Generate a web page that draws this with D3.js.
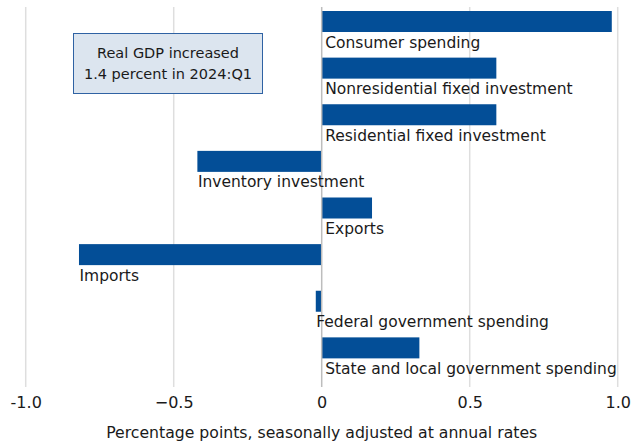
<!DOCTYPE html>
<html>
<head>
<meta charset="utf-8">
<script src="https://cdn.jsdelivr.net/npm/d3@7"></script>
<style>
  html, body { margin: 0; padding: 0; background: #fff; }
  svg text { font-family: "DejaVu Sans", "Open Sans", sans-serif; fill: #1a1a1a; }
</style>
</head>
<body>
<svg id="chart" width="642" height="443"></svg>
<script>
// Contributions to percent change in real GDP, by component
const categories = [
  "Consumer spending",
  "Nonresidential fixed investment",
  "Residential fixed investment",
  "Inventory investment",
  "Exports",
  "Imports",
  "Federal government spending",
  "State and local government spending"
];
const contributions = [0.98, 0.59, 0.59, -0.42, 0.17, -0.82, -0.02, 0.33];
const tickValues = [-1.0, -0.5, 0, 0.5, 1.0];
const tickLabels = ["-1.0", "\u22120.5", "0", "0.5", "1.0"];
const noteLines = ["Real GDP increased", "1.4 percent in 2024:Q1"];
const axisTitle = "Percentage points, seasonally adjusted at annual rates";

const rows = categories.map((c, i) => ({ name: c, value: contributions[i] }));

const svg = d3.select("#chart");
const plotTop = 7, plotBottom = 380, gridBottom = 387;

const x = d3.scaleLinear().domain([-1, 1]).range([25.7, 617.7]);
const y = d3.scaleBand().domain(categories).range([plotTop, plotBottom]);
const barH = 21, barOffset = 4;

// vertical gridlines
svg.append("g")
  .selectAll("line")
  .data(tickValues.filter(v => v !== 0))
  .join("line")
  .attr("x1", d => x(d)).attr("x2", d => x(d))
  .attr("y1", plotTop).attr("y2", gridBottom)
  .attr("stroke", "#dedede").attr("stroke-width", 1.5);

// bars
svg.append("g")
  .selectAll("rect")
  .data(rows)
  .join("rect")
  .attr("x", d => x(Math.min(0, d.value)))
  .attr("width", d => Math.abs(x(d.value) - x(0)))
  .attr("y", d => y(d.name) + barOffset)
  .attr("height", barH)
  .attr("fill", "#034e97");

// zero line
svg.append("line")
  .attr("x1", x(0)).attr("x2", x(0))
  .attr("y1", plotTop).attr("y2", gridBottom)
  .attr("stroke", "#bdbdbd").attr("stroke-width", 1.5);

// category labels under each bar
svg.append("g")
  .selectAll("text")
  .data(rows)
  .join("text")
  .attr("x", d => d.value < 0 ? x(d.value) + 0.5 : x(0) + 3.5)
  .attr("y", d => y(d.name) + barOffset + barH + 15.5)
  .attr("font-size", 15.5)
  .text(d => d.name);

// x axis tick labels
const axis = d3.axisBottom(x)
  .tickValues(tickValues)
  .tickSize(0)
  .tickPadding(0)
  .tickFormat((d, i) => tickLabels[i]);
const gAxis = svg.append("g").attr("transform", `translate(0, ${gridBottom + 2})`).call(axis);
gAxis.select(".domain").remove();
gAxis.selectAll("text")
  .attr("font-size", 16)
  .attr("dy", "0")
  .attr("y", 18.5)
  .style("font-family", "\"DejaVu Sans\", sans-serif")
  .attr("fill", "#1a1a1a");

// axis title
svg.append("text")
  .attr("x", x(0))
  .attr("y", 438)
  .attr("text-anchor", "middle")
  .attr("font-size", 15.7)
  .text(axisTitle);

// annotation box
const note = svg.append("g");
note.append("rect")
  .attr("x", 73.5).attr("y", 33.5)
  .attr("width", 189).attr("height", 60)
  .attr("fill", "#dce5ef")
  .attr("stroke", "#2f62a3")
  .attr("stroke-width", 1);
note.selectAll("text")
  .data(noteLines)
  .join("text")
  .attr("x", 168)
  .attr("y", (d, i) => 58 + i * 21)
  .attr("text-anchor", "middle")
  .attr("font-size", 14.5)
  .text(d => d);
</script>
</body>
</html>
